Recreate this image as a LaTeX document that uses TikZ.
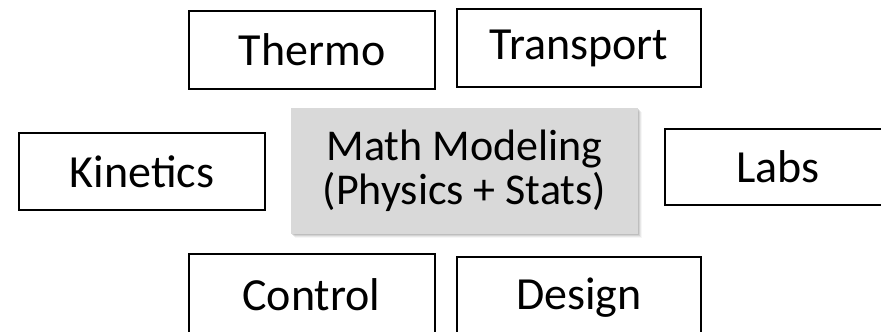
\documentclass[tikz,border=0pt]{standalone}
\usepackage{fontspec}
\setmainfont{Carlito}
\usetikzlibrary{positioning}
\definecolor{mgray}{HTML}{D9D9D9}
\definecolor{shadowgray}{HTML}{8C8C8C}

\begin{document}
\begin{tikzpicture}[x=1pt, y=-1pt,
  topicbox/.style={draw=black, line width=2pt, minimum width=246pt, minimum height=78pt,
    inner sep=0pt, font=\fontsize{46}{50}\selectfont},
  corebox/.style={fill=mgray, minimum width=347pt, minimum height=126pt, align=center,
    inner sep=0pt, font=\fontsize{44}{44}\selectfont}]
  \useasboundingbox (0,0) rectangle (881,332);
  \clip (0,0) rectangle (881,332);
  % soft shadow under the middle box
  \foreach \d/\o in {1/0.3,2/0.22,3/0.14,4/0.08}{
    \fill[shadowgray, opacity=\o] (291+\d,108+\d) rectangle (638+\d,234+\d);
  }
  \node[corebox] (core) at (464.5,171) {Math Modeling\\(Physics + Stats)};
  % ring of course boxes
  \node[topicbox] (thermo) at (312,50) {Thermo};
  \node[topicbox, minimum width=244pt] (transport) at (579,48) {Transport};
  \node[topicbox, minimum height=77pt] (kinetics) at (142,171.5) {Kinetics};
  \node[topicbox, minimum width=226pt, minimum height=76pt] (labs) at (778,167) {Labs};
  \node[topicbox, minimum height=82pt] (control) at (311.5,295) {Control};
  \node[topicbox, minimum width=244pt, minimum height=82pt] (design) at (579,298) {Design};
\end{tikzpicture}
\end{document}
